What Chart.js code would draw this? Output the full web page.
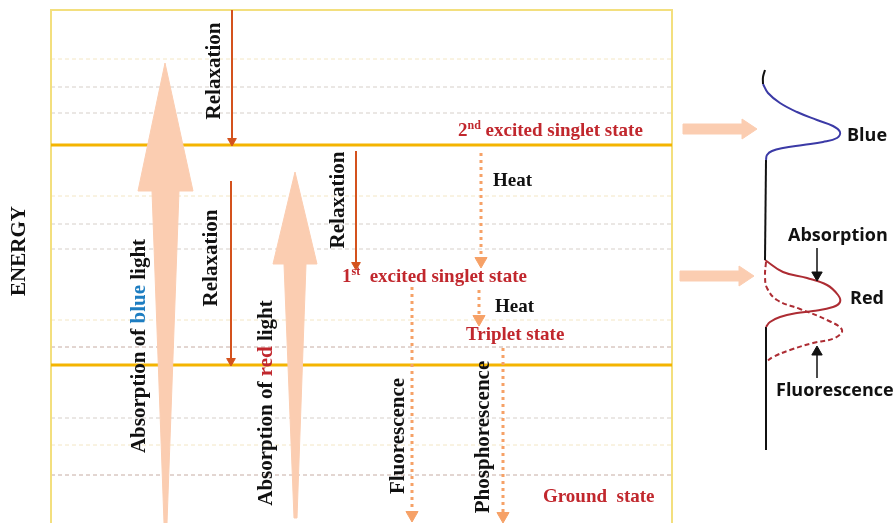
<!DOCTYPE html>
<html>
<head>
<meta charset="utf-8">
<script src="https://cdn.jsdelivr.net/npm/chart.js@4.4.1/dist/chart.umd.min.js"></script>
<style>
  html, body { margin: 0; padding: 0; background: #fff; }
  #wrap { position: relative; width: 896px; height: 523px; }
</style>
</head>
<body>
<div id="wrap"><canvas id="diagram"></canvas></div>
<script>
// ─── DIAGRAM DATA (x across, y = energy, measured from the top) ───────────
var frameX     = [51, 672];
var frameTop   = 10;
var frameBot   = 523;
var levelY     = [145, 365];                       // solid orange levels
var gridPale   = [59, 196, 320, 445];              // pale yellow dashed
var gridGrey   = [87, 113, 224, 249, 418];         // light grey dashed
var gridDark   = [347, 475];                       // brownish dashed

// relaxation arrows: [x, from, to]
var relaxArrows = [[232, 10, 146], [231, 181, 366], [356, 151, 270]];
// dotted arrows (heat, fluorescence, phosphorescence): [x, from, to]
var dotArrows   = [[481, 153, 268], [479, 290, 326], [412, 287, 522], [503, 348, 523]];

// broad absorption arrows as outlines
var blueAbsorb = [[165, 63], [193, 191], [179, 191], [167, 523], [164, 523], [152, 191], [138, 191]];
var redAbsorb  = [[295, 172], [317, 264], [306, 264], [297, 518], [294, 518], [284, 264], [273, 264]];
var toBlue     = [[683, 124], [742, 124], [742, 119], [757, 129], [742, 139], [742, 134], [683, 134]];
var toRed      = [[680, 271], [739, 271], [739, 266], [754, 276], [739, 286], [739, 281], [680, 281]];

// spectra on the right
var specTop    = [[765, 70], [763, 77], [763, 84]];
var blueBand   = [[763, 84], [768, 93], [780, 103], [797, 112], [817, 120], [833, 126], [840, 132],
                  [837, 138], [823, 142], [803, 145], [783, 148], [772, 151], [767, 155], [766, 160]];
var specMid    = [[766, 160], [765, 260]];
var redBand    = [[765, 260], [783, 272], [807, 278], [827, 285], [838, 295], [840, 302], [833, 307],
                  [813, 311], [797, 313], [780, 317], [770, 322], [766, 327]];
var specLow    = [[766, 327], [766, 450]];
var fluoBand   = [[766, 262], [765, 276], [767, 288], [777, 300], [800, 309], [827, 320], [842, 330],
                  [835, 338], [813, 343], [790, 350], [773, 357], [766, 362]];
var specArrows = [[817, 248, 281], [817, 378, 346]];

// ─── LABELS ───────────────────────────────────────────────────────────────
var stateLabels = [
  { parts: [['2', ''], ['nd', 'sup'], [' excited singlet state', '']], at: [458, 136] },
  { parts: [['1', ''], ['st', 'sup'], ['  excited singlet state', '']], at: [342, 282] },
  { parts: [['Triplet state', '']], at: [466, 340] },
  { parts: [['Ground  state', '']], at: [543, 502] }
];
var heatLabels = [['Heat', 493, 186], ['Heat', 495, 312]];
var sideLabels = [
  { parts: [['Relaxation', '']], at: [215, 71] },
  { parts: [['Relaxation', '']], at: [212, 258] },
  { parts: [['Relaxation', '']], at: [339, 200] },
  { parts: [['ENERGY', '']], at: [20, 251] },
  { parts: [['Absorption of ', ''], ['blue', 'blue'], [' light', '']], at: [140, 346] },
  { parts: [['Absorption of ', ''], ['red', 'red'], [' light', '']], at: [267, 403] },
  { parts: [['Fluorescence', '']], at: [399, 436] },
  { parts: [['Phosphorescence', '']], at: [484, 437] }
];
var specLabels = [['Blue', 847, 136], ['Absorption', 788, 236], ['Red', 850, 299], ['Fluorescence', 776, 391]];

// ─── STYLE ────────────────────────────────────────────────────────────────
var SERIF = '"Liberation Serif", "Times New Roman", serif';
var SANS  = '"Open Sans", "Liberation Sans", sans-serif';
var C = {
  frame: '#f3df7e', level: '#f4b400', pale: '#f3e6c4', grey: '#d6cfc9', dark: '#c6aca3',
  relax: '#d4521d', dots: '#f6a167', peach: '#fbcdb1',
  red: '#c1272d', blueWord: '#1d7dc1', blue: '#3b3aa6', band: '#ad2c33', ink: '#111'
};

function pts(list) { return list.map(function(p) { return { x: p[0], y: p[1] }; }); }

function lineDs(list, color, width, dash, order, tension) {
  return {
    data: pts(list), showLine: true, borderColor: color, borderWidth: width,
    borderDash: dash || [], pointRadius: 0, tension: tension || 0, fill: false, order: order
  };
}

function arrowDs(a, color, width, dash, head, order) {
  var dir = a[2] > a[1] ? 1 : -1;
  return {
    data: pts([[a[0], a[1]], [a[0], a[2] - dir * head]]), showLine: true,
    borderColor: color, borderWidth: width, borderDash: dash || [], fill: false,
    pointRadius: [0, head], pointStyle: 'triangle', pointRotation: dir > 0 ? 180 : 0,
    pointBackgroundColor: color, pointBorderColor: color, pointBorderWidth: 1, order: order
  };
}

function shapeDs(list, color, order) {
  var closed = list.concat([list[0]]);
  return {
    data: pts(closed), showLine: true, fill: 'shape', backgroundColor: color,
    borderColor: color, borderWidth: 1, pointRadius: 0, tension: 0, order: order
  };
}

function hLine(y, color) { return lineDs([[frameX[0], y], [frameX[1], y]], color, 1, [4, 3], 9); }

var datasets = [];
gridPale.forEach(function(y) { datasets.push(hLine(y, C.pale)); });
gridGrey.forEach(function(y) { datasets.push(hLine(y, C.grey)); });
gridDark.forEach(function(y) { datasets.push(hLine(y, C.dark)); });
datasets.push(lineDs([[frameX[0], frameBot], [frameX[0], frameTop], [frameX[1], frameTop], [frameX[1], frameBot]], C.frame, 2, null, 8));
levelY.forEach(function(y) { datasets.push(lineDs([[frameX[0], y], [frameX[1], y]], C.level, 3, null, 7)); });
relaxArrows.forEach(function(a) { datasets.push(arrowDs(a, C.relax, 2, null, 5, 4)); });
dotArrows.forEach(function(a) { datasets.push(arrowDs(a, C.dots, 3, [3, 4], 7, 4)); });
[blueAbsorb, redAbsorb, toBlue, toRed].forEach(function(s) { datasets.push(shapeDs(s, C.peach, 3)); });
datasets.push(lineDs(specTop, C.ink, 2, null, 2, 0.4));
datasets.push(lineDs(blueBand, C.blue, 2, null, 2, 0.4));
datasets.push(lineDs(specMid, C.ink, 2, null, 2));
datasets.push(lineDs(redBand, C.band, 2, null, 2, 0.4));
datasets.push(lineDs(specLow, C.ink, 2, null, 2));
datasets.push(lineDs(fluoBand, C.band, 2, [5, 3], 2, 0.4));
specArrows.forEach(function(a) { datasets.push(arrowDs(a, C.ink, 1.5, null, 6, 1)); });

// ─── TEXT PLUGIN ──────────────────────────────────────────────────────────
function drawParts(ctx, parts, size, family, base, centre) {
  var fonts = parts.map(function(p) {
    return 'bold ' + (p[1] === 'sup' ? Math.round(size * 0.62) : size) + 'px ' + family;
  });
  var widths = parts.map(function(p, i) { ctx.font = fonts[i]; return ctx.measureText(p[0]).width; });
  var total = widths.reduce(function(s, w) { return s + w; }, 0);
  var x = centre ? -total / 2 : 0;
  parts.forEach(function(p, i) {
    ctx.font = fonts[i];
    ctx.fillStyle = p[1] === 'blue' ? C.blueWord : p[1] === 'red' ? C.red : base;
    ctx.fillText(p[0], x, p[1] === 'sup' ? -size * 0.36 : 0);
    x += widths[i];
  });
}

var textPlugin = {
  id: 'diagramText',
  afterDatasetsDraw: function(chart) {
    var ctx = chart.ctx, xs = chart.scales.x, ys = chart.scales.y;
    function px(x) { return xs.getPixelForValue(x); }
    function py(y) { return ys.getPixelForValue(y); }
    ctx.save();
    ctx.textBaseline = 'alphabetic';
    stateLabels.forEach(function(l) {
      ctx.save(); ctx.translate(px(l.at[0]), py(l.at[1]));
      drawParts(ctx, l.parts, 19, SERIF, C.red, false);
      ctx.restore();
    });
    heatLabels.forEach(function(l) {
      ctx.font = 'bold 19px ' + SERIF; ctx.fillStyle = C.ink;
      ctx.fillText(l[0], px(l[1]), py(l[2]));
    });
    ctx.textBaseline = 'middle';
    sideLabels.forEach(function(l) {
      ctx.save(); ctx.translate(px(l.at[0]), py(l.at[1])); ctx.rotate(-Math.PI / 2);
      drawParts(ctx, l.parts, 21, SERIF, C.ink, true);
      ctx.restore();
    });
    specLabels.forEach(function(l) {
      ctx.font = 'bold 18px ' + SANS; ctx.fillStyle = C.ink;
      ctx.fillText(l[0], px(l[1]), py(l[2]));
    });
    ctx.restore();
  }
};

new Chart(document.getElementById('diagram'), {
  type: 'scatter',
  data: { datasets: datasets },
  options: {
    responsive: true,
    maintainAspectRatio: false,
    animation: false,
    layout: { autoPadding: false, padding: 0 },
    plugins: { legend: { display: false }, tooltip: { enabled: false } },
    scales: {
      x: { type: 'linear', min: 0, max: 896, display: false },
      y: { type: 'linear', min: 0, max: 523, reverse: true, display: false }
    }
  },
  plugins: [textPlugin]
});
</script>
</body>
</html>
